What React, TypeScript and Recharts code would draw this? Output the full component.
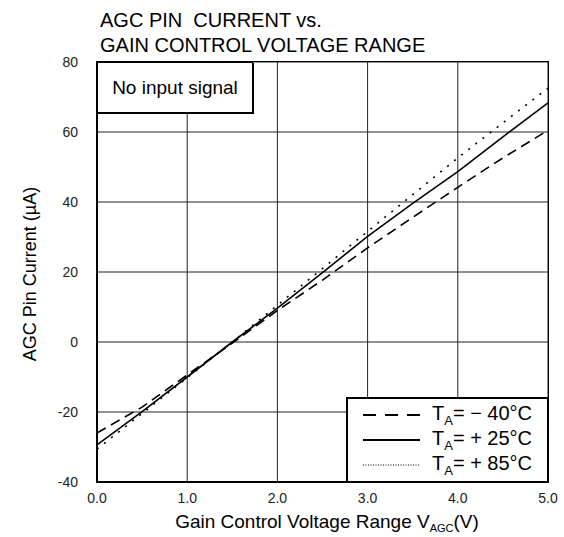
import { LineChart, Line, XAxis, YAxis, CartesianGrid } from 'recharts';

// gain control voltage (V)
const voltage = [0, 0.5, 1.0, 1.5, 2.0, 2.5, 3.0, 3.5, 4.0, 4.5, 5.0];
// AGC pin current (uA) per temperature
const currentM40 = [-26, -18.6, -9.4, -0.3, 9, 17.7, 26.9, 35.6, 44.2, 52.6, 60.5];
const current25 = [-29.4, -19.9, -10, 0, 9.7, 19.8, 30.2, 39.6, 48.7, 58.6, 68.3];
const current85 = [-30.6, -20.4, -10.2, 0, 10.5, 21, 31.6, 42.1, 52.6, 62.6, 72.5];

const xTicks = [0, 1, 2, 3, 4, 5];
const yTicks = [-40, -20, 0, 20, 40, 60, 80];

const legendItems = [
  { label: '= \u2212 40°C', dash: '13 9', width: 2 },
  { label: '= + 25°C', dash: undefined, width: 2 },
  { label: '= + 85°C', dash: '1 1.5', width: 1 },
];

const data = voltage.map((v, i) => ({
  v,
  m40: currentM40[i],
  p25: current25[i],
  p85: current85[i],
}));

const FONT = 'Arial, "Liberation Sans", sans-serif';

export default function App() {
  return (
    <div style={{ position: 'absolute', left: 0, top: 0, width: 564, height: 537, background: '#fff', fontFamily: FONT }}>
      <LineChart width={564} height={537} data={data} margin={{ top: 62, right: 16, left: 0, bottom: 0 }}>
        <CartesianGrid stroke="#222" strokeWidth={1} horizontalValues={yTicks} verticalValues={xTicks} />
        <XAxis
          dataKey="v"
          type="number"
          domain={[0, 5]}
          ticks={xTicks}
          tickFormatter={(t: number) => t.toFixed(1)}
          height={55}
          tickSize={0}
          tickMargin={11}
          axisLine={{ stroke: '#000', strokeWidth: 2 }}
          tick={{ fill: '#222', fontSize: 14, fontFamily: FONT }}
        />
        <YAxis
          type="number"
          domain={[-40, 80]}
          ticks={yTicks}
          width={97}
          tickSize={0}
          tickMargin={19}
          axisLine={{ stroke: '#000', strokeWidth: 2 }}
          tick={{ fill: '#222', fontSize: 14, fontFamily: FONT }}
        />
        <Line dataKey="m40" stroke="#000" strokeWidth={1.6} strokeDasharray="10 6" dot={false} isAnimationActive={false} />
        <Line dataKey="p25" stroke="#000" strokeWidth={1.6} dot={false} isAnimationActive={false} />
        <Line dataKey="p85" stroke="#000" strokeWidth={1.6} strokeDasharray="2 7" dot={false} isAnimationActive={false} />
      </LineChart>

      {/* plot border top/right */}
      <div style={{ position: 'absolute', left: 96, top: 61, width: 451, height: 420, border: '1px solid #000', pointerEvents: 'none' }} />

      {/* title */}
      <div style={{ position: 'absolute', left: 100, top: 8, fontSize: 20, lineHeight: '25px', color: '#000' }}>
        <div style={{ whiteSpace: 'pre' }}>AGC PIN  CURRENT vs.</div>
        <div>GAIN CONTROL VOLTAGE RANGE</div>
      </div>

      {/* y label */}
      <div style={{ position: 'absolute', left: 30, top: 274, transform: 'translate(-50%, -50%) rotate(-90deg)', whiteSpace: 'nowrap', fontSize: 18, color: '#000' }}>
        AGC Pin Current (µA)
      </div>

      {/* x label */}
      <div style={{ position: 'absolute', left: 327, top: 522, transform: 'translate(-50%, -50%)', whiteSpace: 'nowrap', fontSize: 19, color: '#000' }}>
        Gain Control Voltage Range V<sub style={{ fontSize: 11, verticalAlign: '-4px' }}>AGC</sub>(V)
      </div>

      {/* note box */}
      <div style={{ position: 'absolute', left: 97, top: 62, width: 156, height: 51, boxSizing: 'border-box', border: '1px solid #000', boxShadow: '1px 1px 0 #000', background: '#fff', fontSize: 19, display: 'flex', alignItems: 'center', justifyContent: 'center' }}>
        No input signal
      </div>

      {/* legend */}
      <div style={{ position: 'absolute', left: 346, top: 397, width: 203, height: 86, boxSizing: 'border-box', border: '2px solid #000', background: '#fff', paddingTop: 3 }}>
        {legendItems.map((it) => (
          <div key={it.label} style={{ display: 'flex', alignItems: 'center', height: 25, fontSize: 20 }}>
            <svg width={58} height={10} style={{ marginLeft: 15, marginRight: 11 }}>
              <line x1={0} y1={5} x2={57} y2={5} stroke="#000" strokeWidth={it.width} strokeDasharray={it.dash} />
            </svg>
            <span style={{ whiteSpace: 'nowrap' }}>
              T<sub style={{ fontSize: 13, verticalAlign: '-5px' }}>A</sub>{it.label}
            </span>
          </div>
        ))}
      </div>
    </div>
  );
}
